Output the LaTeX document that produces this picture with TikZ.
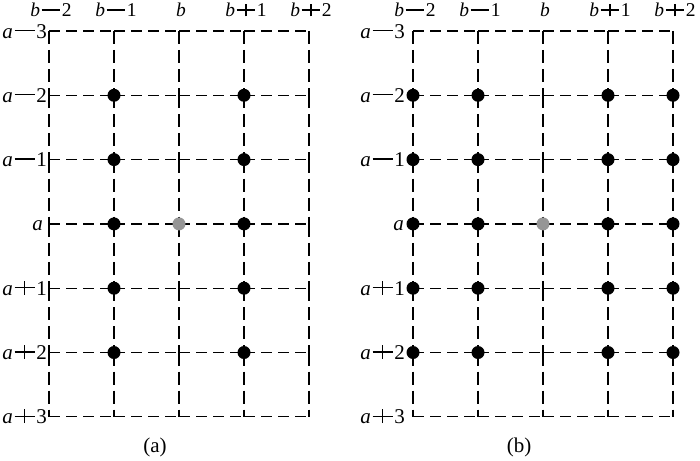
\documentclass[tikz,border=0pt]{standalone}
\usepackage{fontspec}
\setmainfont{Liberation Serif}
\definecolor{dotgray}{RGB}{150,150,150}
\newcommand\mymn{\kern0.08em\rule[0.33em]{0.95em}{0.06em}\kern0.08em}
\newcommand\mypl{\kern0.08em\rlap{\rule[0.33em]{0.95em}{0.06em}}\kern0.445em\rule[0.03em]{0.06em}{0.66em}\kern0.445em\kern0.08em}
\begin{document}
\begin{tikzpicture}[x=1pt,y=-1pt,
  hseg/.style={line width=1.2pt, dash pattern=on 11pt off 6pt},
  vseg/.style={line width=1.2pt, dash pattern=on 13pt off 6pt},
  dotb/.style={circle, fill=black, inner sep=0pt, minimum size=13pt},
  dotg/.style={circle, fill=dotgray, inner sep=0pt, minimum size=13pt},
  collab/.style={font=\fontsize{19.5}{22}\selectfont, anchor=base, inner sep=0pt},
  rowlab/.style={font=\fontsize{21}{24}\selectfont, anchor=base east, inner sep=0pt},
  caplab/.style={font=\fontsize{21}{24}\selectfont, anchor=base, inner sep=0pt}]
\useasboundingbox (0,0) rectangle (700,460);
\foreach \gx/\lx/\ak/\nm in {49/47/4pt/L, 413/405/1pt/R} {
  % grid
  \foreach \i in {0,...,6} {
    \foreach \j in {0,...,3} {
      \draw[hseg] ({\gx+65*\j},{31+64.3*\i}) -- ({\gx+65*(\j+1)},{31+64.3*\i});
    }
  }
  \foreach \j in {0,...,4} {
    \foreach \i in {0,...,5} {
      \draw[vseg] ({\gx+65*\j},{31+64.3*\i}) -- ({\gx+65*\j},{31+64.3*(\i+1)});
    }
  }
  % column labels
  \foreach \j/\t in {0/\textit{b}\mymn 2, 1/\textit{b}\mymn 1, 2/\textit{b}, 3/\textit{b}\mypl 1, 4/\textit{b}\mypl 2} {
    \node[collab] (col-\nm-\j) at ({\gx+65*\j+2},17) {\t};
  }
  % row labels
  \foreach \i/\t in {0/\textit{a}\mymn 3, 1/\textit{a}\mymn 2, 2/\textit{a}\mymn 1, 3/\textit{a}\kern\ak, 4/\textit{a}\mypl 1, 5/\textit{a}\mypl 2, 6/\textit{a}\mypl 3} {
    \node[rowlab] (row-\nm-\i) at (\lx,{38+64.3*\i}) {\t};
  }
  % centre dot
  \node[dotg] (c-\nm) at ({\gx+130},{31+64.3*3}) {};
}
% dots of (a)
\foreach \j in {1,3} {
  \foreach \i in {1,...,5} {
    \node[dotb] (dL-\j-\i) at ({49+65*\j},{31+64.3*\i}) {};
  }
}
% dots of (b)
\foreach \j in {0,1,3,4} {
  \foreach \i in {1,...,5} {
    \node[dotb] (dR-\j-\i) at ({413+65*\j},{31+64.3*\i}) {};
  }
}
\node[caplab] (capa) at (155,452) {(a)};
\node[caplab] (capb) at (519,452) {(b)};
\end{tikzpicture}
\end{document}
